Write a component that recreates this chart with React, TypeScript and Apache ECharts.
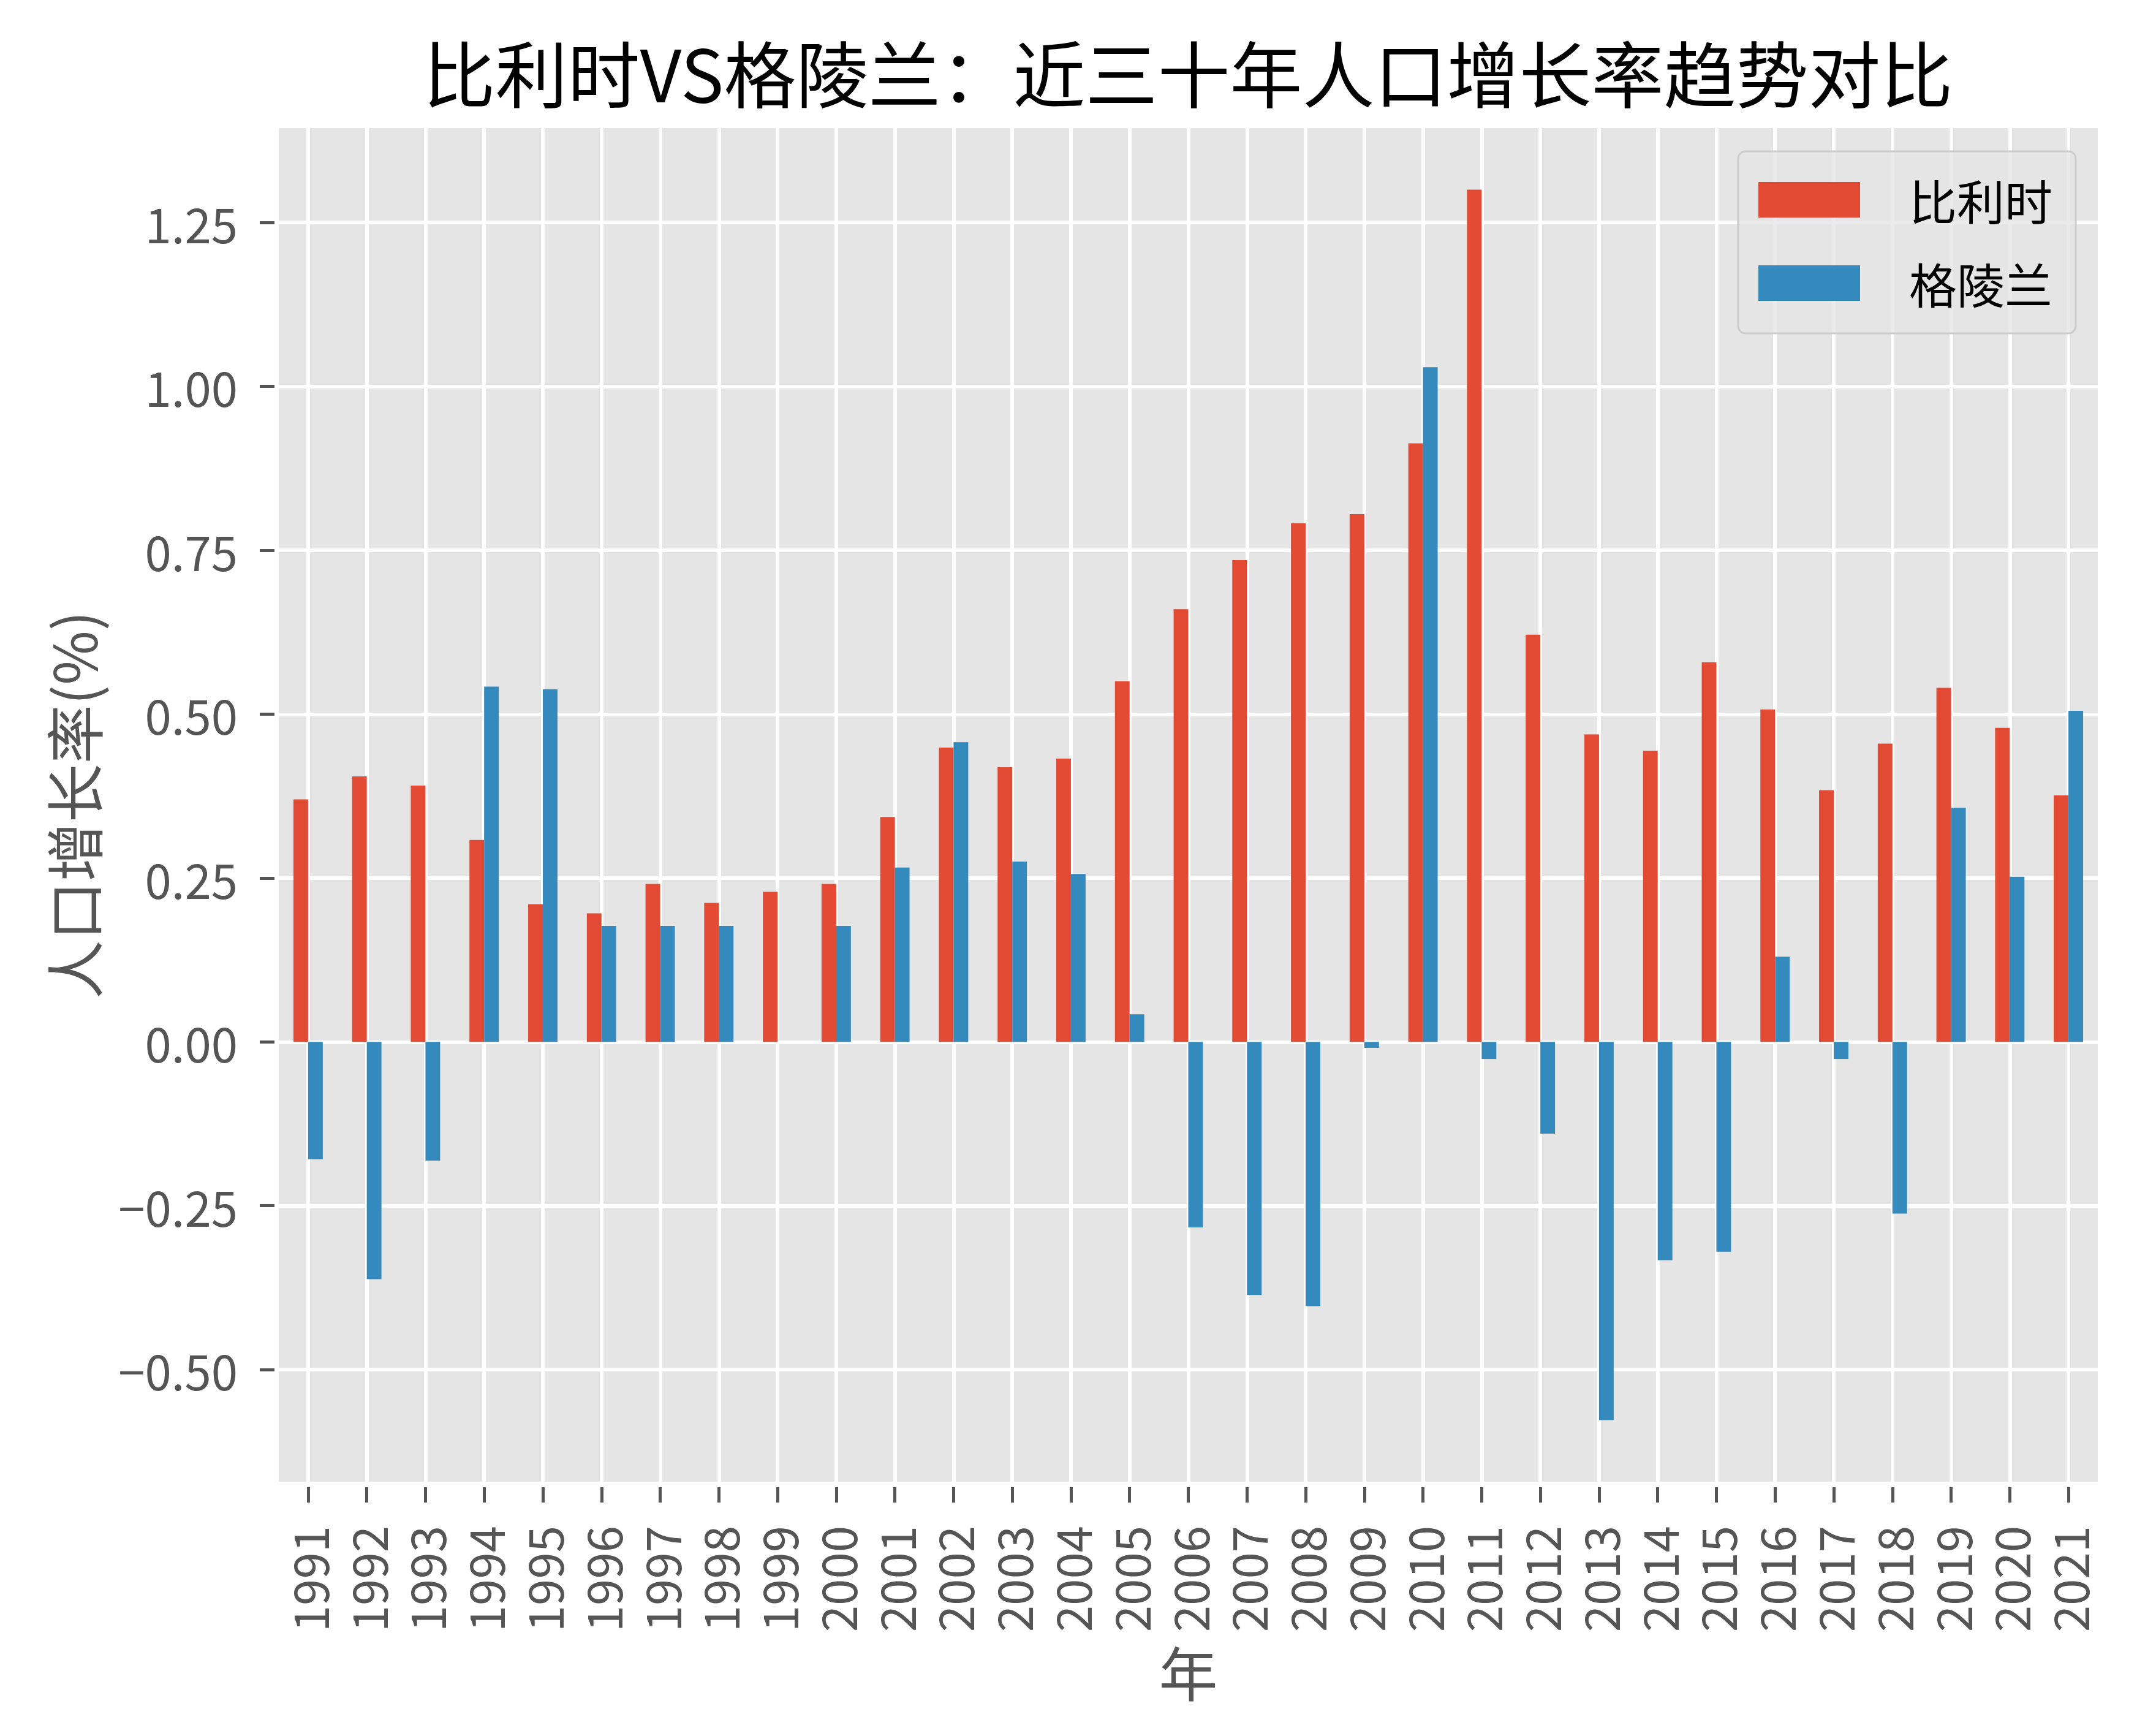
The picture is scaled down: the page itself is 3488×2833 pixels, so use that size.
import React, { useEffect, useRef } from "react";
import * as echarts from "echarts";

const years = [
  "1991", "1992", "1993", "1994", "1995", "1996", "1997", "1998", "1999", "2000",
  "2001", "2002", "2003", "2004", "2005", "2006", "2007", "2008", "2009", "2010",
  "2011", "2012", "2013", "2014", "2015", "2016", "2017", "2018", "2019", "2020", "2021",
];
const belgium = [
  0.370, 0.405, 0.391, 0.308, 0.210, 0.196, 0.241, 0.212, 0.229, 0.241,
  0.343, 0.449, 0.419, 0.432, 0.550, 0.660, 0.735, 0.791, 0.805, 0.913,
  1.300, 0.621, 0.469, 0.444, 0.579, 0.507, 0.384, 0.455, 0.540, 0.479, 0.376,
];
const greenland = [
  -0.179, -0.362, -0.181, 0.542, 0.538, 0.177, 0.177, 0.177, 0.0, 0.177,
  0.266, 0.457, 0.275, 0.256, 0.042, -0.283, -0.386, -0.403, -0.009, 1.029,
  -0.026, -0.140, -0.577, -0.333, -0.320, 0.130, -0.026, -0.262, 0.357, 0.252, 0.505,
];
const yTicks = [-0.5, -0.25, 0, 0.25, 0.5, 0.75, 1.0, 1.25];
const seriesNames = ["比利时", "格陵兰"];
const colors = ["#E24A33", "#348ABD"];
const titleText = "比利时VS格陵兰：近三十年人口增长率趋势对比";
const xName = "年";
const yName = "人口增长率(%)";

const FONT = "'Noto Sans CJK SC', 'Noto Sans', sans-serif";

export default function App() {
  const ref = useRef<HTMLDivElement>(null);
  useEffect(() => {
    if (!ref.current) return;
    const chart = echarts.init(ref.current, null, { renderer: "svg" });
    const all = [...belgium, ...greenland, 0];
    const lo = Math.min(...all);
    const hi = Math.max(...all);
    const pad = (hi - lo) * 0.05;

    const option: any = {
      animation: false,
      backgroundColor: "#ffffff",
      graphic: [
        {
          type: "text",
          x: 1939,
          y: 115,
          style: {
            text: titleText,
            align: "center",
            verticalAlign: "middle",
            fontSize: 118,
            fontFamily: FONT,
            fill: "#000000",
          },
        },
      ],
      grid: {
        left: 455,
        right: 64,
        top: 209,
        bottom: 415,
        containLabel: false,
        show: true,
        backgroundColor: "#E5E5E5",
        borderWidth: 0,
      },
      legend: {
        orient: "vertical",
        left: 2837,
        top: 247,
        padding: [40, 38, 43, 33],
        itemWidth: 166,
        itemHeight: 58,
        itemGap: 58,
        icon: "rect",
        backgroundColor: "rgba(229,229,229,0.8)",
        borderColor: "#cccccc",
        borderWidth: 3,
        borderRadius: 12,
        data: seriesNames,
        textStyle: {
          fontSize: 78,
          fontFamily: FONT,
          color: "#000000",
          padding: [0, 0, 0, 75],
        },
      },
      xAxis: {
        type: "category",
        data: years,
        offset: 9,
        name: xName,
        nameLocation: "middle",
        nameGap: 251,
        nameTextStyle: { fontSize: 96, fontFamily: FONT, color: "#555555" },
        axisLine: { show: false, onZero: false },
        axisTick: {
          show: true,
          alignWithLabel: true,
          length: 25,
          interval: 0,
          lineStyle: { color: "#555555", width: 5 },
        },
        axisLabel: {
          interval: 0,
          rotate: 90,
          margin: 63,
          fontSize: 78,
          fontFamily: FONT,
          color: "#555555",
        },
        splitLine: {
          show: true,
          alignWithLabel: true,
          interval: 0,
          lineStyle: { color: "#ffffff", width: 6 },
        },
      },
      yAxis: {
        type: "value",
        min: lo - pad,
        max: hi + pad,
        offset: 7,
        name: yName,
        nameLocation: "middle",
        nameGap: 283,
        nameTextStyle: { fontSize: 96, fontFamily: FONT, color: "#555555" },
        axisLine: { show: false, onZero: false },
        axisTick: {
          show: true,
          length: 24,
          customValues: yTicks,
          lineStyle: { color: "#555555", width: 5 },
        },
        axisLabel: {
          customValues: yTicks,
          margin: 60,
          fontSize: 78,
          fontFamily: FONT,
          color: "#555555",
          formatter: (v: number) => v.toFixed(2).replace("-", "\u2212"),
        },
        splitLine: {
          show: true,
          lineStyle: { color: "#ffffff", width: 6 },
        },
      },
      series: [
        {
          name: seriesNames[0],
          type: "bar",
          data: belgium,
          barWidth: "25%",
          barGap: "0%",
          itemStyle: { color: colors[0] },
        },
        {
          name: seriesNames[1],
          type: "bar",
          data: greenland,
          barWidth: "25%",
          barGap: "0%",
          itemStyle: { color: colors[1] },
        },
      ],
    };
    chart.setOption(option);
    return () => chart.dispose();
  }, []);
  return (
    <div
      ref={ref}
      style={{ position: "absolute", left: 0, top: 0, width: 3488, height: 2833 }}
    />
  );
}
